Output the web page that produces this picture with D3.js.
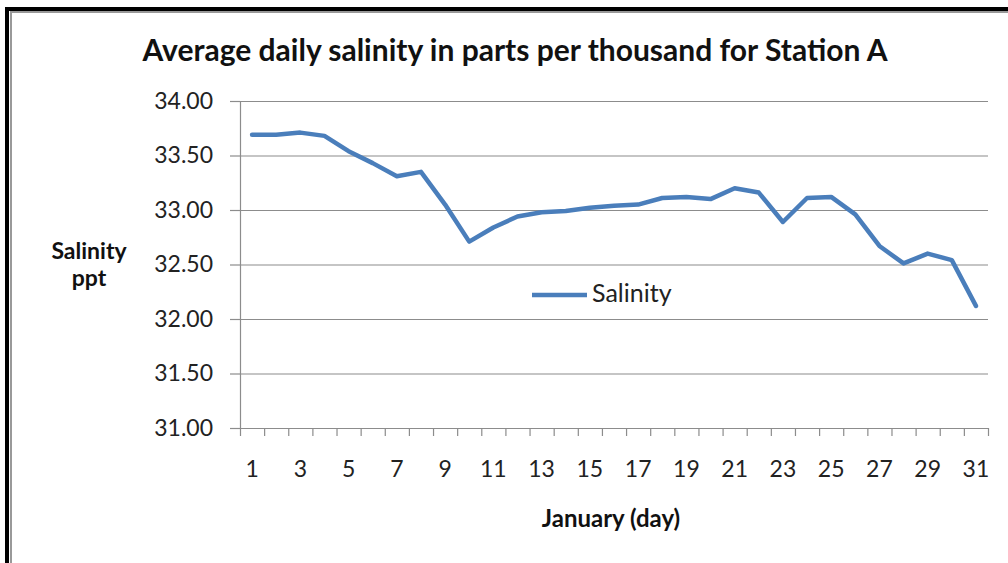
<!DOCTYPE html>
<html lang="en">
<head>
<meta charset="UTF-8">
<title>Average daily salinity</title>
<script src="https://d3js.org/d3.v7.min.js"></script>
<style>
  body { margin: 0; background: #fff; font-family: Lato, "Open Sans", sans-serif; }
  .tick text { fill: #222; }
</style>
</head>
<body>
<div id="chart"></div>
<script>
// chart data
var days = d3.range(1, 32);
var salinity = [33.69, 33.69, 33.71, 33.68, 33.54, 33.43, 33.31, 33.35, 33.05, 32.71,
                32.84, 32.94, 32.98, 32.99, 33.02, 33.04, 33.05, 33.11, 33.12, 33.10,
                33.20, 33.16, 32.89, 33.11, 33.12, 32.96, 32.67, 32.51, 32.60, 32.54,
                32.12];
var yTicks = [31.00, 31.50, 32.00, 32.50, 33.00, 33.50, 34.00];
var xLabels = days.filter(function(d) { return d % 2 === 1; });

var width = 1008, height = 563;
var plotLeft = 240, plotRight = 988, plotTop = 101, plotBottom = 428;

var svg = d3.select("#chart").append("svg")
  .attr("width", width)
  .attr("height", height);

// frame (dark edge top/left, like a cropped chart box)
svg.append("rect").attr("x", 5).attr("y", 7).attr("width", width).attr("height", 4).attr("fill", "#000");
svg.append("rect").attr("x", 5).attr("y", 7).attr("width", 4).attr("height", height).attr("fill", "#000");
svg.append("rect").attr("x", 10).attr("y", 11).attr("width", width).attr("height", 2).attr("fill", "#999");
svg.append("rect").attr("x", 10).attr("y", 11).attr("width", 2).attr("height", height).attr("fill", "#999");

var x = d3.scaleBand().domain(days).range([plotLeft, plotRight]).padding(0);
var xEdge = d3.scaleLinear().domain([0, days.length]).range([plotLeft, plotRight]);
var y = d3.scaleLinear().domain([31, 34]).range([plotBottom, plotTop]);

// gridlines
svg.append("g")
  .attr("transform", "translate(" + plotLeft + ",0)")
  .call(d3.axisLeft(y).tickValues(yTicks).tickSize(-(plotRight - plotLeft)).tickFormat(""))
  .call(function(g) {
    g.select(".domain").remove();
    g.selectAll("line").attr("stroke", "#8c8c8c").attr("stroke-width", 1.2);
  });

// y axis with labels
svg.append("g")
  .attr("transform", "translate(" + plotLeft + ",0)")
  .call(d3.axisLeft(y).tickValues(yTicks).tickSize(10).tickPadding(17).tickFormat(d3.format(".2f")))
  .call(function(g) {
    g.select(".domain").attr("stroke", "#8c8c8c").attr("stroke-width", 1.2);
    g.selectAll("line").attr("stroke", "#8c8c8c").attr("stroke-width", 1.2);
    g.selectAll("text").style("font-family", "Lato, sans-serif").style("font-size", "23px");
  });

// x axis: tick marks on category edges
svg.append("g")
  .attr("transform", "translate(0," + plotBottom + ")")
  .call(d3.axisBottom(xEdge).tickValues(d3.range(0, days.length + 1)).tickSize(8).tickFormat("").tickSizeOuter(0))
  .call(function(g) {
    g.select(".domain").attr("stroke", "#8c8c8c").attr("stroke-width", 1.2);
    g.selectAll("line").attr("stroke", "#8c8c8c").attr("stroke-width", 1.2);
  });

// x labels on category centres, every other day
svg.append("g")
  .attr("transform", "translate(0," + plotBottom + ")")
  .call(d3.axisBottom(x).tickValues(xLabels).tickSize(0).tickPadding(33))
  .call(function(g) {
    g.select(".domain").remove();
    g.selectAll("text").style("font-family", "Lato, sans-serif").style("font-size", "23px");
  });

// the series line
var line = d3.line()
  .x(function(d, i) { return x(days[i]) + x.bandwidth() / 2; })
  .y(function(d) { return y(d); });

svg.append("path")
  .datum(salinity)
  .attr("d", line)
  .attr("fill", "none")
  .attr("stroke", "#4a7ebb")
  .attr("stroke-width", 4.5)
  .attr("stroke-linejoin", "round")
  .attr("stroke-linecap", "round");

// legend
svg.append("line")
  .attr("x1", 532).attr("x2", 587).attr("y1", 295).attr("y2", 295)
  .attr("stroke", "#4a7ebb").attr("stroke-width", 4.5);
svg.append("text")
  .attr("x", 592).attr("y", 302)
  .style("font-size", "25px").attr("fill", "#222")
  .text("Salinity");

// titles
svg.append("text")
  .attr("x", 515).attr("y", 61)
  .attr("text-anchor", "middle")
  .style("font-size", "30px").style("font-weight", "bold").attr("fill", "#111")
  .text("Average daily salinity in parts per thousand for Station A");

svg.append("text")
  .attr("x", 89).attr("y", 259)
  .attr("text-anchor", "middle")
  .style("font-size", "23px").style("font-weight", "bold").attr("fill", "#111")
  .text("Salinity");
svg.append("text")
  .attr("x", 89).attr("y", 286)
  .attr("text-anchor", "middle")
  .style("font-size", "23px").style("font-weight", "bold").attr("fill", "#111")
  .text("ppt");

svg.append("text")
  .attr("x", 611).attr("y", 527)
  .attr("text-anchor", "middle")
  .style("font-size", "24px").style("font-weight", "bold").attr("fill", "#111")
  .text("January (day)");
</script>
</body>
</html>
